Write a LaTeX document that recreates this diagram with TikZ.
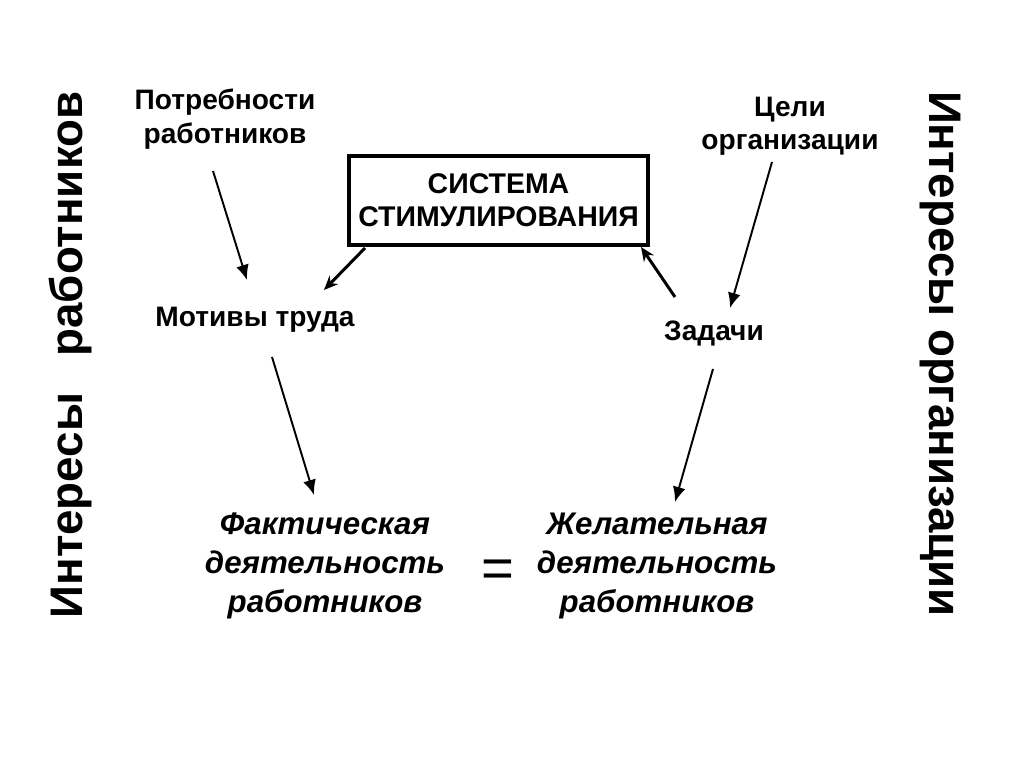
\documentclass[tikz,border=0pt]{standalone}
\usepackage{fontspec}
\setmainfont{Liberation Sans}
\usetikzlibrary{arrows.meta,positioning}
\tikzset{
  lbl/.style={font=\bfseries\fontsize{8}{9.5}\selectfont,align=center,inner sep=1pt},
  res/.style={font=\bfseries\itshape\fontsize{8.9}{11}\selectfont,align=center,inner sep=1pt},
  side/.style={font=\bfseries\fontsize{13}{15}\selectfont,inner sep=0pt},
  sysbox/.style={draw,line width=0.9pt,minimum width=2.99cm,minimum height=0.89cm,
    inner xsep=1pt,font=\bfseries\fontsize{8.1}{9.4}\selectfont,align=center},
  thin/.style={line width=0.55pt,-{Latex[length=4.3pt,width=3.7pt]}},
  thk/.style={line width=0.85pt,-{Stealth[length=4pt,width=3.4pt]}},
}
\begin{document}
\begin{tikzpicture}
  \useasboundingbox (0,0) rectangle (10.24,7.67);
  % side captions
  \node[side,rotate=90] (wrk) at (0.70,4.12){Интересы\hspace{0.8em}работников};
  \node[side,rotate=-90] (org) at (9.40,4.13){Интересы организации};
  % upper level
  \node[lbl] (need) at (2.25,6.48){Потребности\\работников};
  \node[lbl] (goal) at (7.90,6.41){Цели\\организации};
  \node[sysbox] (sys) at (4.985,5.665){СИСТЕМА\\СТИМУЛИРОВАНИЯ};
  \node[lbl] (mot) at (2.55,4.47){Мотивы труда};
  \node[lbl] (task) at (7.14,4.34){Задачи};
  % activity
  \node[res] (fact) at (3.25,2.01){Фактическая\\деятельность\\работников};
  \node[res] (want) at (6.57,2.01){Желательная\\деятельность\\работников};
  \node[font=\fontsize{16}{16}\selectfont] (eq) at (4.98,1.93){=};
  % arrow ends
  \coordinate (n1) at (2.13,5.96);
  \coordinate (n2) at (2.47,4.87);
  \coordinate (g1) at (7.72,6.05);
  \coordinate (g2) at (7.30,4.59);
  \coordinate (m1) at (2.72,4.10);
  \coordinate (m2) at (3.14,2.72);
  \coordinate (t1) at (7.13,3.98);
  \coordinate (t2) at (6.75,2.65);
  \coordinate (s1) at (3.65,5.19);
  \coordinate (s2) at (3.24,4.77);
  \coordinate (q1) at (6.75,4.70);
  \coordinate (q2) at (6.41,5.20);
  \draw[thin] (n1) -- (n2);
  \draw[thin] (g1) -- (g2);
  \draw[thin] (m1) -- (m2);
  \draw[thin] (t1) -- (t2);
  \draw[thk] (s1) -- (s2);
  \draw[thk] (q1) -- (q2);
\end{tikzpicture}
\end{document}
